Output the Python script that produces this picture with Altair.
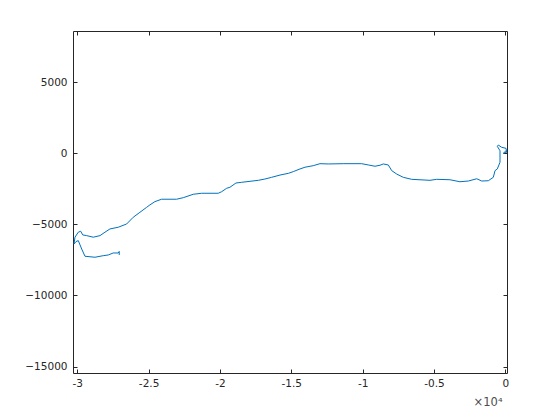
import altair as alt
import pandas as pd

# Trajectory (path order from lower-left hook to right end)
xs = [-27060, -27060, -27130, -27480, -27830, -28180, -28760, -29460, -29690, -29930,
      -30090, -30230, -30160, -29930, -29760, -29620, -29340, -28880, -28410, -28060,
      -27710, -27130, -26540, -26080, -25610, -25140, -24910, -24560, -24090, -23040,
      -22570, -21870, -21280, -20120, -19880, -19530, -19300, -18880, -18480, -17310,
      -16850, -16380, -15790, -15210, -14860, -14390, -14040, -13460, -12990, -12410,
      -11360, -10070, -9600, -9130, -8780, -8550, -8200, -7960, -7610, -7150,
      -6560, -5280, -4810, -3880, -3180, -2590, -2000, -1650, -1190, -840,
      -720, -560, -370, -370, -560, -490, -250, 50, 100, -140, 50]
ys = [-7150, -6900, -7010, -7010, -7150, -7200, -7310, -7240, -6730, -6140,
      -6210, -6380, -5900, -5550, -5480, -5740, -5790, -5900, -5790, -5550,
      -5320, -5200, -4970, -4500, -4150, -3800, -3630, -3400, -3230, -3230,
      -3120, -2880, -2810, -2810, -2700, -2460, -2390, -2090, -2040, -1900,
      -1810, -1690, -1530, -1410, -1290, -1100, -980, -870, -730, -750,
      -730, -730, -820, -910, -840, -750, -820, -1220, -1460, -1690,
      -1830, -1900, -1830, -1860, -2000, -1950, -1790, -1950, -1930, -1690,
      -1220, -1100, -630, 180, 490, 580, 420, 350, 70, 0, 180]

x_ticks = [-30000, -25000, -20000, -15000, -10000, -5000, 0]
y_ticks = [-15000, -10000, -5000, 0, 5000]
x_domain = [-30300, 120]
y_domain = [-15450, 8600]

df = pd.DataFrame({"x": xs, "y": ys, "i": list(range(len(xs)))})

FONT = "DejaVu Sans"
AX = "#262626"
TICK = 4

common = dict(grid=False, domain=False, tickColor=AX, tickSize=TICK, offset=-TICK,
              labelColor=AX, labelFont=FONT, labelFontSize=10.5)

xs_scale = alt.Scale(domain=x_domain, nice=False, zero=False)
ys_scale = alt.Scale(domain=y_domain, nice=False, zero=False)

base = alt.Chart(df)

main = base.mark_line(color="#0072BD", strokeWidth=1).encode(
    x=alt.X("x:Q", scale=xs_scale,
            axis=alt.Axis(values=x_ticks, labelExpr="datum.value / 10000 + ''",
                          labelPadding=5, title="×10⁴", titleFont=FONT,
                          titleFontSize=11.5, titleFontWeight="normal", titleColor="#4d4d4d",
                          titleAnchor="end", titleAlign="right", titleX=429, titleY=36,
                          titleBaseline="alphabetic", **common)),
    y=alt.Y("y:Q", scale=ys_scale,
            axis=alt.Axis(values=y_ticks, format="d", labelPadding=6, title=None, **common)),
    order="i:Q",
)

ghost = base.mark_line(strokeOpacity=0).encode(
    x=alt.X("x:Q", scale=xs_scale,
            axis=alt.Axis(orient="top", values=x_ticks, labels=False, title=None, **common)),
    y=alt.Y("y:Q", scale=ys_scale,
            axis=alt.Axis(orient="right", values=y_ticks, labels=False, title=None, **common)),
    order="i:Q",
)

chart = alt.layer(main, ghost).resolve_scale(x="shared", y="shared").resolve_axis(
    x="independent", y="independent"
).properties(
    width=434, height=342,
    background="white",
    autosize=alt.AutoSizeParams(type="none"),
    padding={"left": 65, "top": 23, "right": 45, "bottom": 39},
).configure_view(stroke=AX, strokeWidth=1)

chart.save("out.html", embed_options={"renderer": "svg", "actions": False})
